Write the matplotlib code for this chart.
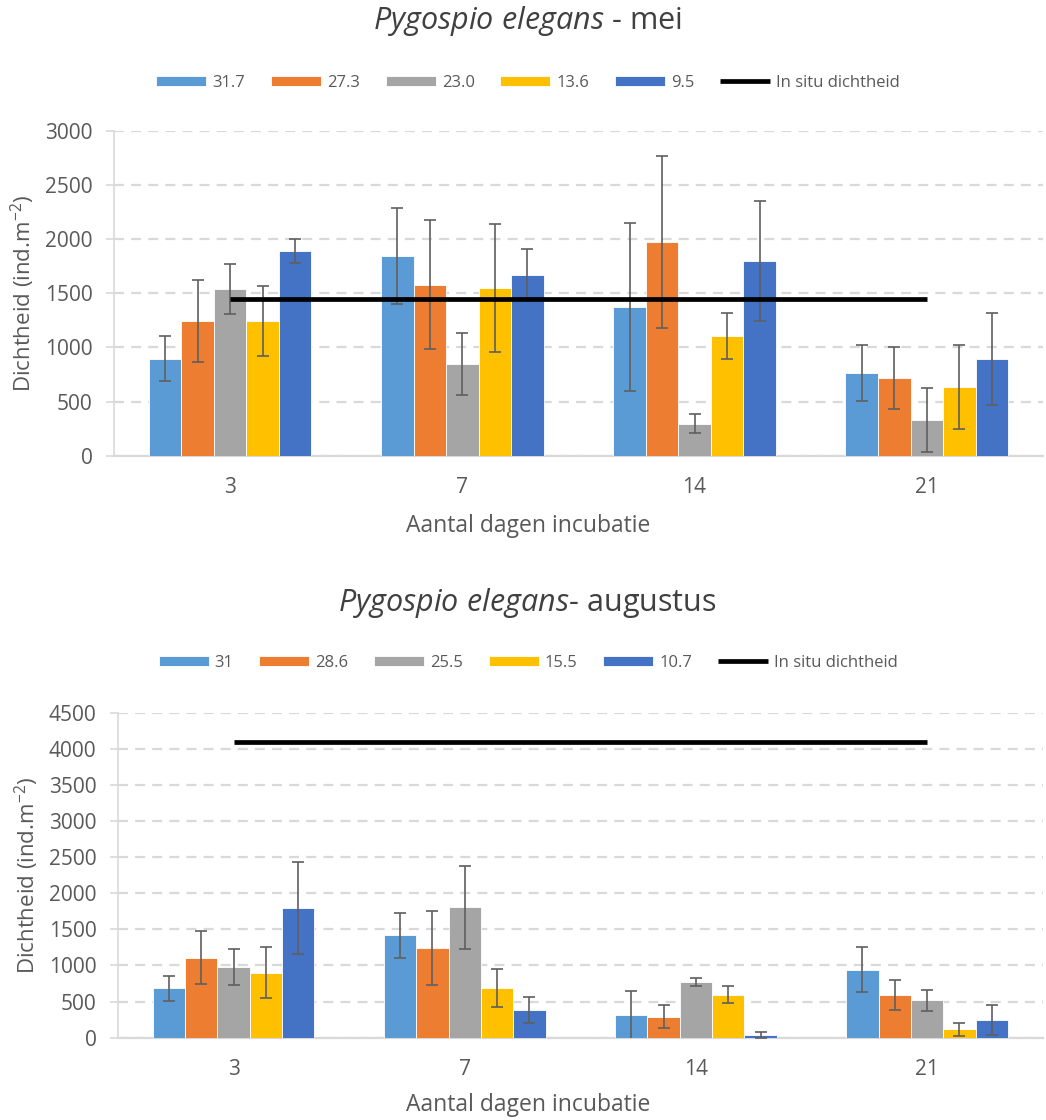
import matplotlib
matplotlib.use("Agg")
import matplotlib.pyplot as plt
import numpy as np

plt.rcParams['font.family'] = ['Open Sans', 'DejaVu Sans']
plt.rcParams['mathtext.fontset'] = 'custom'
plt.rcParams['mathtext.rm'] = 'Open Sans'
plt.rcParams['mathtext.it'] = 'Open Sans:italic'
plt.rcParams['mathtext.default'] = 'regular'

# ---------------- data ----------------
days = ["3", "7", "14", "21"]

# May
mei_labels = ["31.7", "27.3", "23.0", "13.6", "9.5"]
mei_317 = [895, 1843, 1374, 766]
mei_273 = [1240, 1580, 1972, 720]
mei_230 = [1542, 848, 295, 330]
mei_136 = [1240, 1545, 1108, 636]
mei_95 = [1890, 1670, 1800, 893]
mei_sd_317 = [209, 439, 773, 258]
mei_sd_273 = [378, 596, 793, 285]
mei_sd_230 = [230, 288, 87, 293]
mei_sd_136 = [322, 590, 213, 390]
mei_sd_95 = [110, 237, 552, 425]
mei_insitu = 1450

# August
aug_labels = ["31", "28.6", "25.5", "15.5", "10.7"]
aug_31 = [681, 1420, 309, 940]
aug_286 = [1110, 1241, 293, 595]
aug_255 = [983, 1806, 770, 515]
aug_155 = [898, 690, 595, 118]
aug_107 = [1795, 383, 35, 245]
aug_sd_31 = [173, 312, 337, 312]
aug_sd_286 = [362, 508, 164, 205]
aug_sd_255 = [249, 575, 51, 148]
aug_sd_155 = [353, 265, 120, 88]
aug_sd_107 = [637, 180, 43, 206]
aug_insitu = 4090

colors = ["#5B9BD5", "#ED7D31", "#A5A5A5", "#FFC000", "#4472C4"]
txt_color = "#595959"
grid_color = "#D9D9D9"

fig = plt.figure(figsize=(10.46, 11.2), dpi=100)


def draw_panel(ax, series, sds, labels, insitu, ymax, title, title_y, legend_y, xlabel_y, ylabel_x):
    x = np.arange(len(days))
    n = len(series)
    group_w = 0.70
    bw = group_w / n
    handles = []
    for i, (vals, sd) in enumerate(zip(series, sds)):
        pos = x - group_w / 2 + bw * (i + 0.5)
        b = ax.bar(pos, vals, width=bw, color=colors[i], edgecolor="white",
                   linewidth=0.6, label=labels[i], zorder=3,
                   yerr=sd, error_kw=dict(ecolor="#5f5f5f", elinewidth=1.2,
                                          capsize=4.2, capthick=1.2, zorder=4))
        handles.append(b)
    ln, = ax.plot(x, [insitu] * len(x), color="black", lw=3.4, zorder=5,
                  solid_capstyle="butt", label="In situ dichtheid")
    handles.append(ln)

    ax.set_xlim(-0.5, len(days) - 0.5)
    ax.set_ylim(0, ymax)
    ax.set_yticks(np.arange(0, ymax + 1, 500))
    ax.set_xticks(x)
    ax.set_xticklabels(days)
    ax.yaxis.grid(True, color=grid_color, lw=1.6, linestyle=(0, (4.5, 3.2)), zorder=0)
    ax.set_axisbelow(True)
    for s in ["top", "right"]:
        ax.spines[s].set_visible(False)
    ax.spines["left"].set_color(grid_color)
    ax.spines["bottom"].set_color(grid_color)
    ax.spines["left"].set_linewidth(1.2)
    ax.spines["bottom"].set_linewidth(1.6)
    ax.tick_params(axis="y", length=6, width=1.2, color=grid_color, pad=9.5,
                   labelsize=15, labelcolor=txt_color)
    ax.tick_params(axis="x", length=0, pad=15, labelsize=15, labelcolor=txt_color)

    fig.text(0.5045, title_y, title, ha="center", va="center", fontsize=22, color="#404040")
    fig.text(0.5045, xlabel_y, "Aantal dagen incubatie", ha="center", va="center",
             fontsize=16.5, color=txt_color)
    bb = ax.get_position()
    fig.text(ylabel_x, (bb.y0 + bb.y1) / 2, "Dichtheid (ind.m$^{-2}$)", rotation=90,
             ha="center", va="center", fontsize=16, color=txt_color)
    fig.legend(handles=handles, labels=labels + ["In situ dichtheid"], loc="center",
               bbox_to_anchor=(0.505, legend_y), ncol=6, frameon=False, fontsize=12,
               handlelength=3.0, handleheight=0.6, handletextpad=0.36,
               columnspacing=1.55, labelcolor=txt_color)


ax1 = fig.add_axes([0.109, 0.5931, 0.888, 0.2902])
draw_panel(ax1,
           [mei_317, mei_273, mei_230, mei_136, mei_95],
           [mei_sd_317, mei_sd_273, mei_sd_230, mei_sd_136, mei_sd_95],
           mei_labels, mei_insitu, 3000,
           r"$\mathit{Pygospio\ elegans}$ - mei", 0.981, 0.926, 0.530, 0.022)

ax2 = fig.add_axes([0.1128, 0.0735, 0.884, 0.2902])
draw_panel(ax2,
           [aug_31, aug_286, aug_255, aug_155, aug_107],
           [aug_sd_31, aug_sd_286, aug_sd_255, aug_sd_155, aug_sd_107],
           aug_labels, aug_insitu, 4500,
           r"$\mathit{Pygospio\ elegans}$- augustus", 0.4616, 0.408, 0.0134, 0.026)

fig.savefig("out.png", dpi=100)
